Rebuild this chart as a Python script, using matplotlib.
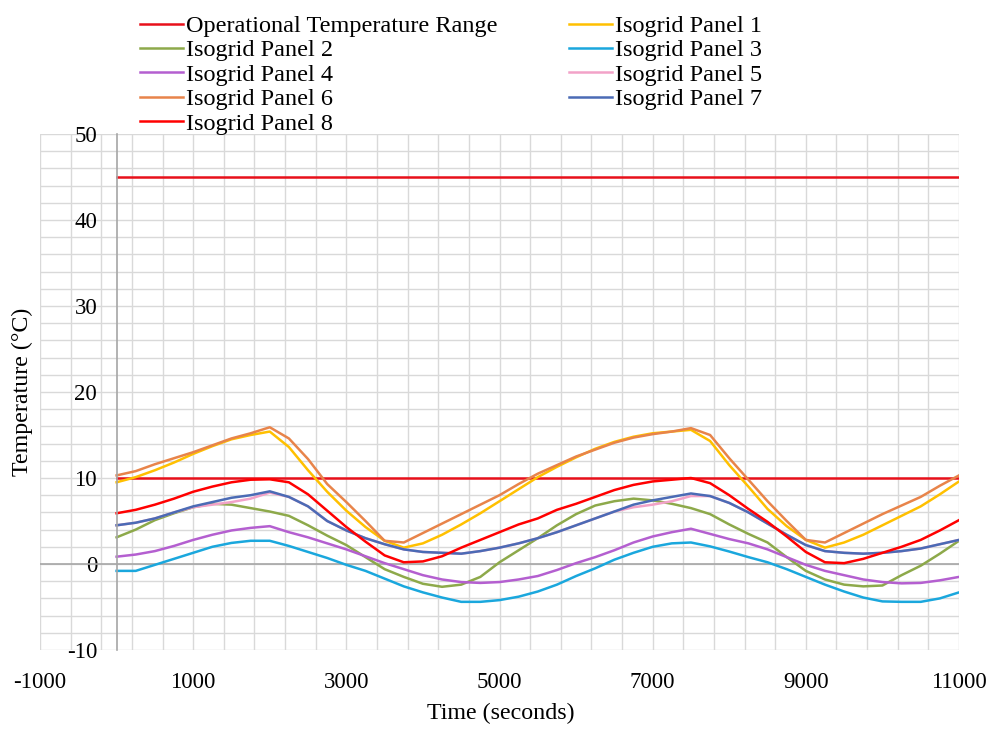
import matplotlib
matplotlib.use("Agg")
import matplotlib.pyplot as plt
import numpy as np

time_s = [0, 250, 500, 750, 1000, 1250, 1500, 1750, 2000, 2250, 2500, 2750, 3000,
          3250, 3500, 3750, 4000, 4250, 4500, 4750, 5000, 5250, 5500, 5750, 6000,
          6250, 6500, 6750, 7000, 7250, 7500, 7750, 8000, 8250, 8500, 8750, 9000,
          9250, 9500, 9750, 10000, 10250, 10500, 10750, 11000]

op_range_time = [0, 11000]
op_range_upper = [45, 45]
op_range_lower = [10, 10]

panel1 = [9.5, 10.1, 10.9, 11.8, 12.8, 13.7, 14.5, 15.0, 15.4, 13.6, 10.9, 8.4, 6.2,
          4.3, 2.7, 1.9, 2.4, 3.4, 4.6, 5.9, 7.3, 8.7, 10.1, 11.3, 12.4,
          13.4, 14.2, 14.8, 15.2, 15.4, 15.6, 14.3, 11.5, 9.0, 6.4, 4.4, 2.8,
          1.9, 2.5, 3.4, 4.5, 5.6, 6.7, 8.1, 9.6]
panel2 = [3.1, 4.0, 5.1, 5.9, 6.6, 7.0, 6.9, 6.5, 6.1, 5.6, 4.5, 3.3, 2.2,
          0.8, -0.6, -1.5, -2.3, -2.65, -2.4, -1.5, 0.2, 1.6, 3.0, 4.5, 5.8,
          6.8, 7.3, 7.6, 7.4, 7.0, 6.5, 5.8, 4.6, 3.5, 2.5, 0.8, -0.8,
          -1.8, -2.4, -2.6, -2.5, -1.3, -0.2, 1.2, 2.7]
panel3 = [-0.8, -0.8, -0.1, 0.6, 1.3, 2.0, 2.45, 2.7, 2.7, 2.1, 1.4, 0.7, -0.1,
          -0.8, -1.7, -2.6, -3.3, -3.9, -4.4, -4.4, -4.2, -3.8, -3.2, -2.4, -1.4,
          -0.5, 0.5, 1.3, 2.0, 2.4, 2.5, 2.05, 1.45, 0.8, 0.2, -0.6, -1.5,
          -2.4, -3.2, -3.9, -4.35, -4.4, -4.4, -4.0, -3.3]
panel4 = [0.85, 1.1, 1.5, 2.1, 2.8, 3.4, 3.9, 4.2, 4.4, 3.7, 3.1, 2.4, 1.7,
          0.9, 0.1, -0.6, -1.3, -1.8, -2.1, -2.2, -2.1, -1.8, -1.4, -0.7, 0.1,
          0.8, 1.6, 2.5, 3.2, 3.7, 4.1, 3.5, 2.9, 2.4, 1.7, 0.8, -0.1,
          -0.8, -1.3, -1.8, -2.1, -2.25, -2.2, -1.9, -1.5]
panel5 = [4.5, 4.8, 5.3, 6.0, 6.6, 6.9, 7.2, 7.6, 8.3, 7.8, 6.7, 5.0, 3.9,
          3.0, 2.3, 1.7, 1.4, 1.3, 1.2, 1.5, 1.9, 2.4, 3.0, 3.7, 4.5,
          5.3, 6.1, 6.6, 6.9, 7.3, 7.9, 7.9, 7.1, 6.0, 4.7, 3.4, 2.2,
          1.5, 1.3, 1.2, 1.3, 1.5, 1.8, 2.3, 2.8]
panel6 = [10.3, 10.8, 11.6, 12.3, 13.0, 13.8, 14.6, 15.2, 15.9, 14.6, 12.2, 9.3, 7.2,
          5.0, 2.7, 2.5, 3.6, 4.7, 5.8, 6.9, 8.0, 9.3, 10.5, 11.5, 12.5,
          13.3, 14.1, 14.7, 15.1, 15.4, 15.8, 15.0, 12.3, 9.8, 7.3, 5.0, 2.8,
          2.5, 3.6, 4.7, 5.8, 6.8, 7.8, 9.1, 10.3]
panel7 = [4.5, 4.8, 5.3, 6.0, 6.7, 7.2, 7.7, 8.0, 8.45, 7.8, 6.7, 5.0, 3.9,
          3.0, 2.3, 1.7, 1.4, 1.3, 1.2, 1.5, 1.9, 2.4, 3.0, 3.7, 4.5,
          5.3, 6.1, 6.9, 7.4, 7.8, 8.2, 7.9, 7.1, 6.0, 4.7, 3.4, 2.2,
          1.5, 1.3, 1.2, 1.3, 1.5, 1.8, 2.3, 2.8]
panel8 = [5.9, 6.3, 6.9, 7.6, 8.4, 9.0, 9.5, 9.8, 9.85, 9.5, 8.1, 6.2, 4.3,
          2.6, 1.0, 0.2, 0.3, 0.9, 1.9, 2.8, 3.7, 4.6, 5.3, 6.3, 7.0,
          7.8, 8.6, 9.2, 9.6, 9.8, 10.0, 9.4, 8.0, 6.4, 4.9, 3.2, 1.4,
          0.2, 0.1, 0.6, 1.3, 2.0, 2.8, 3.9, 5.1]

series_labels = ["Isogrid Panel 1", "Isogrid Panel 2", "Isogrid Panel 3",
                 "Isogrid Panel 4", "Isogrid Panel 5", "Isogrid Panel 6",
                 "Isogrid Panel 7", "Isogrid Panel 8"]
series_values = [panel1, panel2, panel3, panel4, panel5, panel6, panel7, panel8]
series_colors = ["#FFC000", "#8DA94A", "#1AA7DD", "#B45FD0", "#F2A2C8",
                 "#E8844A", "#4B6BB5", "#FF0000"]

x_major = [-1000, 1000, 3000, 5000, 7000, 9000, 11000]
y_major = [-10, 0, 10, 20, 30, 40, 50]

plt.rcParams['font.family'] = ['Liberation Serif', 'DejaVu Serif']
plt.rcParams['axes.unicode_minus'] = False

fig = plt.figure(figsize=(9.97, 7.29), dpi=100)
ax = fig.add_axes([40/997, 1-650/729, (959-40)/997, (650-134)/729])

ax.set_xlim(-1000, 11000)
ax.set_ylim(-10, 50)

# grid
ax.set_xticks(x_major)
ax.set_yticks(y_major)
ax.set_xticks(np.arange(-1000, 11001, 400), minor=True)
ax.set_yticks(np.arange(-10, 51, 2), minor=True)
ax.grid(True, which='both', color='#D9D9D9', lw=1.0)
ax.set_axisbelow(True)
ax.tick_params(which='both', length=0)
ax.tick_params(axis='both', labelsize=16.5)
ax.tick_params(axis='x', pad=16)
ax.tick_params(axis='y', pad=14)

for s in ['top', 'right', 'bottom']:
    ax.spines[s].set_visible(False)
ax.spines['left'].set_position(('data', 0))
ax.spines['left'].set_color('#A6A6A6')
ax.spines['left'].set_linewidth(1.2)
ax.axhline(0, color='#A6A6A6', lw=1.2, zorder=1)

h_op, = ax.plot(op_range_time, op_range_upper, color='#E8101A', lw=1.8,
                label='Operational Temperature Range')
ax.plot(op_range_time, op_range_lower, color='#E8101A', lw=1.8)
hs = []
for lab, vals, col in zip(series_labels, series_values, series_colors):
    h, = ax.plot(time_s, vals, color=col, lw=1.8, label=lab)
    hs.append(h)

order = [h_op, hs[1], hs[3], hs[5], hs[7], hs[0], hs[2], hs[4], hs[6]]
fig.legend(handles=order, labels=[h.get_label() for h in order], ncol=2,
           loc='upper left', bbox_to_anchor=(140/997, 1-15/729), frameon=False,
           fontsize=17.5, handlelength=1.77, handletextpad=0.12,
           columnspacing=2.96, labelspacing=0.1, borderpad=0, borderaxespad=0)

fig.text(22/997, 1-392/729, 'Temperature (°C)', rotation=90, fontsize=17.3,
         ha='center', va='center')
fig.text(501/997, 1-713/729, 'Time (seconds)', fontsize=17.3, ha='center', va='center')

fig.savefig('out.png', dpi=100)
